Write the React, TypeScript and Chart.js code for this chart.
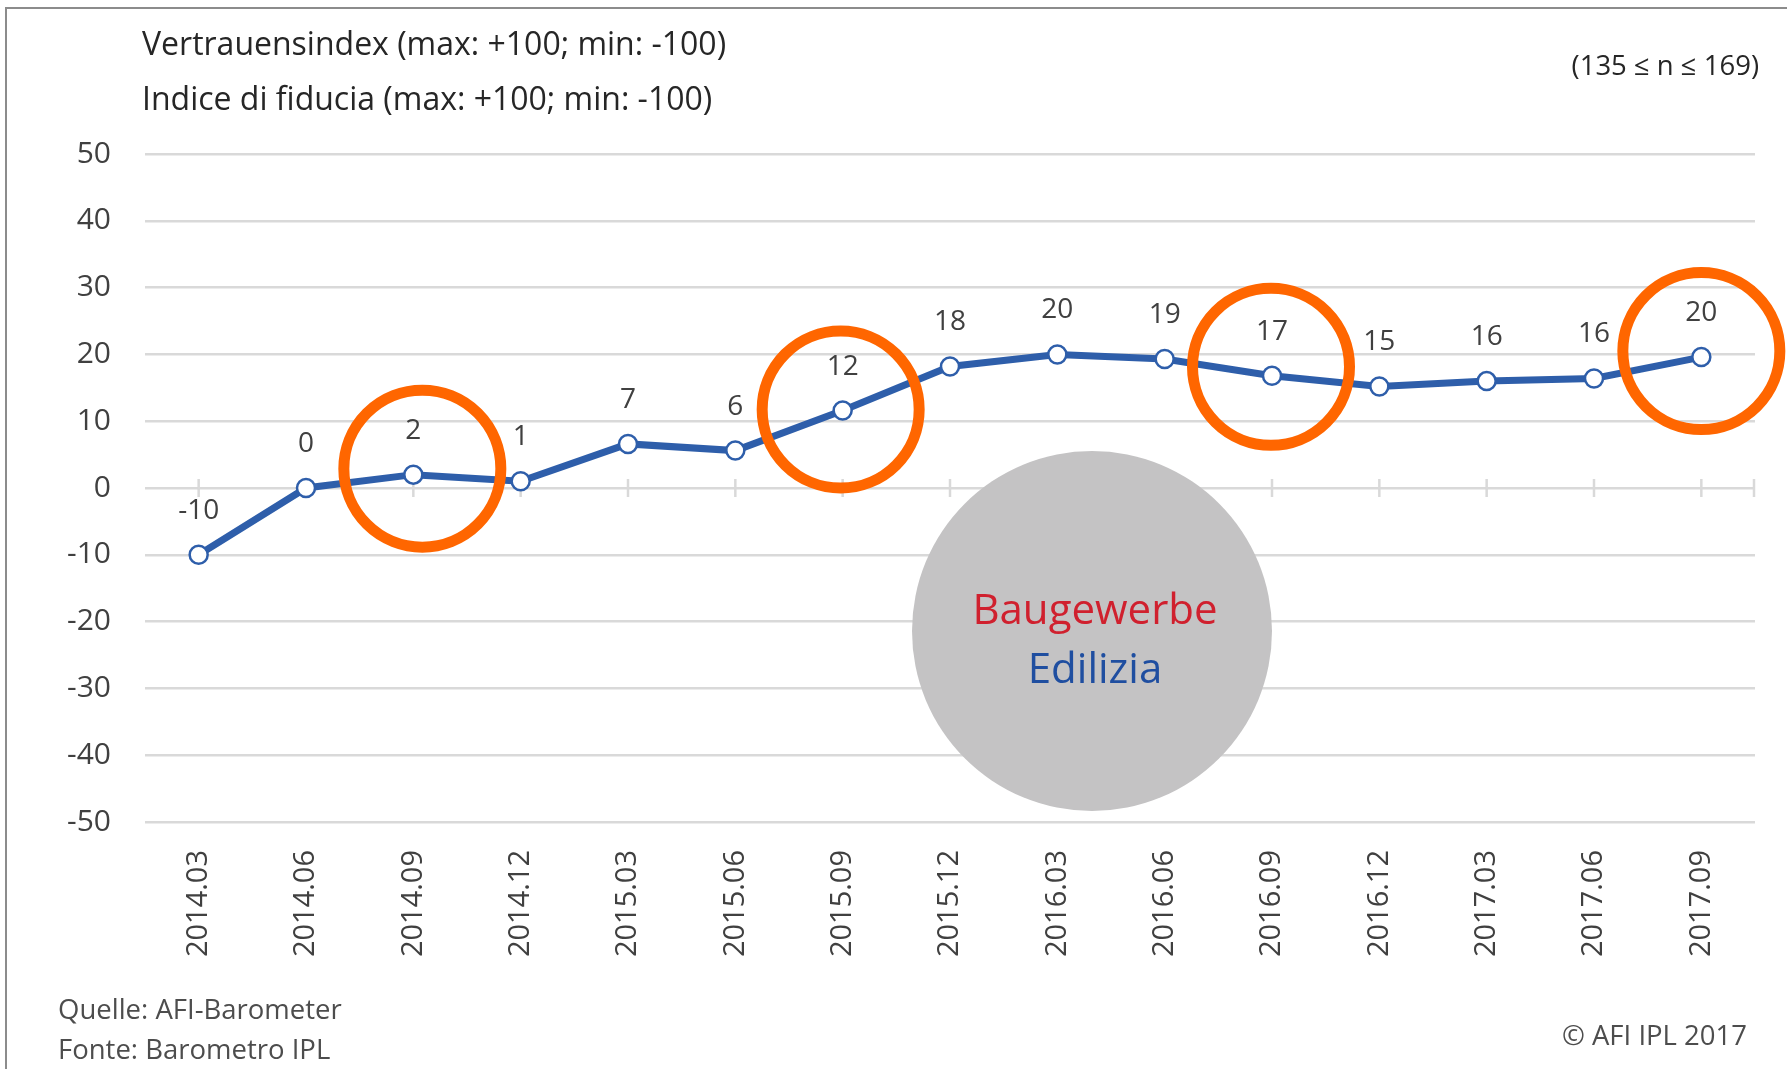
import React, { useEffect, useRef } from "react";
import { Chart, registerables } from "chart.js";

Chart.register(...registerables);

const categories = [
  "2014.03", "2014.06", "2014.09", "2014.12",
  "2015.03", "2015.06", "2015.09", "2015.12",
  "2016.03", "2016.06", "2016.09", "2016.12",
  "2017.03", "2017.06", "2017.09",
];
const confidenceIndex = [-10, 0, 2.0, 1.0, 6.6, 5.6, 11.6, 18.2, 20.0, 19.3, 16.8, 15.2, 16.0, 16.4, 19.6];
const highlightedPeriods = ["2014.09", "2015.09", "2016.09", "2017.09"];
const yTicks = [-50, -40, -30, -20, -10, 0, 10, 20, 30, 40, 50];

const titleLines = ["Vertrauensindex (max: +100; min: -100)", "Indice di fiducia (max: +100; min: -100)"];
const sampleNote = "(135 \u2264 n \u2264 169)";
const sourceLines = ["Quelle: AFI-Barometer", "Fonte: Barometro IPL"];
const copyright = "\u00A9 AFI IPL 2017";
const badgeLines = ["Baugewerbe", "Edilizia"];

const BLUE = "#2e5eaa";
const GRID = "#d9d9d9";
const ORANGE = "#ff6600";
const TEXT = "#404040";
const FONT = '"Open Sans", "Noto Sans", sans-serif';

// small offsets of the hand-drawn highlight rings relative to their point
const ringOffsets = [
  [9, -6],
  [-2, -1],
  [-1, -9],
  [0, -6],
];

const decorPlugin = {
  id: "decor",
  beforeDatasetsDraw(chart: any) {
    const { ctx, chartArea, scales } = chart;
    const x = scales.x;
    const y = scales.y;
    ctx.save();
    // ticks crossing the zero line
    const y0 = y.getPixelForValue(0);
    ctx.strokeStyle = GRID;
    ctx.lineWidth = 2.5;
    ctx.beginPath();
    categories.forEach((_, i) => {
      const px = x.getPixelForValue(i);
      ctx.moveTo(px, y0 - 9);
      ctx.lineTo(px, y0 + 9);
    });
    ctx.moveTo(chartArea.right - 1, y0 - 9);
    ctx.lineTo(chartArea.right - 1, y0 + 9);
    ctx.stroke();

    // grey badge
    ctx.fillStyle = "#c4c3c4";
    ctx.beginPath();
    ctx.arc(1092, 631, 180, 0, Math.PI * 2);
    ctx.fill();
    ctx.textAlign = "center";
    ctx.textBaseline = "alphabetic";
    ctx.font = `42px ${FONT}`;
    ctx.fillStyle = "#d0202e";
    ctx.fillText(badgeLines[0], 1095, 624);
    ctx.fillStyle = "#1f4ea0";
    ctx.fillText(badgeLines[1], 1095, 683);
    ctx.restore();
  },
  afterDatasetsDraw(chart: any) {
    const { ctx } = chart;
    const meta = chart.getDatasetMeta(0);
    ctx.save();
    // data labels
    ctx.font = `28px ${FONT}`;
    ctx.fillStyle = TEXT;
    ctx.textAlign = "center";
    ctx.textBaseline = "alphabetic";
    meta.data.forEach((pt: any, i: number) => {
      ctx.fillText(String(Math.round(confidenceIndex[i])), pt.x, pt.y - 36);
    });
    // highlight rings
    ctx.strokeStyle = ORANGE;
    ctx.lineWidth = 11;
    highlightedPeriods.forEach((p, k) => {
      const i = categories.indexOf(p);
      const pt = meta.data[i];
      if (!pt) return;
      ctx.beginPath();
      ctx.arc(pt.x + ringOffsets[k][0], pt.y + ringOffsets[k][1], 78.5, 0, Math.PI * 2);
      ctx.stroke();
    });
    ctx.restore();
  },
  afterDraw(chart: any) {
    const { ctx, width, height } = chart;
    ctx.save();
    // frame
    ctx.strokeStyle = "#8c8c8c";
    ctx.lineWidth = 2;
    ctx.beginPath();
    ctx.moveTo(6, height);
    ctx.lineTo(6, 8);
    ctx.lineTo(width, 8);
    ctx.stroke();
    // titles
    ctx.textBaseline = "alphabetic";
    ctx.textAlign = "left";
    ctx.fillStyle = "#262626";
    ctx.font = `32px ${FONT}`;
    ctx.fillText(titleLines[0], 142, 55);
    ctx.fillText(titleLines[1], 142, 110);
    ctx.textAlign = "right";
    ctx.font = `27.5px ${FONT}`;
    ctx.fillText(sampleNote, 1759, 75);
    // footers
    ctx.fillStyle = "#4d4d4d";
    ctx.font = `27.5px ${FONT}`;
    ctx.textAlign = "left";
    ctx.fillText(sourceLines[0], 58, 1019);
    ctx.fillText(sourceLines[1], 58, 1059);
    ctx.textAlign = "right";
    ctx.fillText(copyright, 1747, 1045);
    ctx.restore();
  },
};

export default function App() {
  const canvasRef = useRef<HTMLCanvasElement | null>(null);

  useEffect(() => {
    document.body.style.margin = "0";
    document.body.style.overflow = "hidden";
    const canvas = canvasRef.current;
    if (!canvas) return;
    const chart = new Chart(canvas, {
      type: "line",
      data: {
        labels: categories,
        datasets: [
          {
            data: confidenceIndex,
            borderColor: BLUE,
            borderWidth: 7,
            pointRadius: 9,
            pointBorderWidth: 2.5,
            pointBackgroundColor: "#ffffff",
            pointBorderColor: BLUE,
            tension: 0,
            clip: false,
          } as any,
        ],
      },
      options: {
        responsive: false,
        animation: false,
        devicePixelRatio: 1,
        layout: { padding: { top: 154, right: 32, left: 0, bottom: 0 } },
        plugins: {
          legend: { display: false },
          tooltip: { enabled: false },
        },
        scales: {
          x: {
            type: "category",
            offset: true,
            grid: { display: false, drawTicks: false },
            border: { display: false },
            ticks: {
              autoSkip: false,
              minRotation: 90,
              maxRotation: 90,
              padding: 28,
              color: TEXT,
              font: { family: FONT, size: 29 },
            },
            afterFit: (s: any) => {
              s.height = 247;
            },
          },
          y: {
            min: yTicks[0],
            max: yTicks[yTicks.length - 1],
            afterBuildTicks: (s: any) => {
              s.ticks = yTicks.map((v) => ({ value: v }));
            },
            grid: { color: GRID, lineWidth: 2.5, drawTicks: false },
            border: { display: false },
            ticks: {
              padding: 34,
              color: TEXT,
              font: { family: FONT, size: 30 },
            },
            afterFit: (s: any) => {
              s.width = 145;
            },
          },
        },
      },
      plugins: [decorPlugin],
    });
    return () => chart.destroy();
  }, []);

  return (
    <div style={{ position: "absolute", left: 0, top: 0, width: 1787, height: 1069, background: "#fff" }}>
      <canvas ref={canvasRef} width={1787} height={1069} style={{ display: "block" }} />
    </div>
  );
}
